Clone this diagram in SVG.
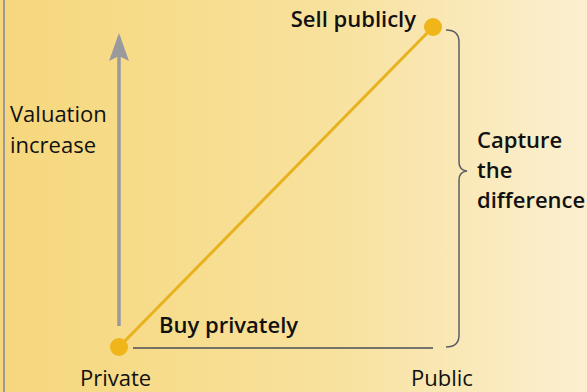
<svg xmlns="http://www.w3.org/2000/svg" width="587" height="392" viewBox="0 0 587 392">
  <defs>
    <linearGradient id="bg" x1="0" y1="0" x2="1" y2="0">
      <stop offset="0" stop-color="#f6d77c"/>
      <stop offset="0.55" stop-color="#f8e19c"/>
      <stop offset="1" stop-color="#fbefd0"/>
    </linearGradient>
    <style>
      .label { font-family: "Open Sans", "Noto Sans", "DejaVu Sans", sans-serif; font-size: 22px; fill: #111; }
      .bold { font-weight: 600; }
      .dot { fill: #efb519; }
    </style>
  </defs>

  <rect width="587" height="392" fill="url(#bg)"/>
  <line x1="4" y1="0" x2="4" y2="392" stroke="#9a9a9e" stroke-width="2"/>

  <g id="connectors">
    <!-- valuation axis -->
    <line x1="119" y1="326" x2="119" y2="37" stroke="#9a9a9e" stroke-width="3.5"/>
    <path d="M119 33 L129 61 L119 56 L109 61 Z" fill="#9a9a9e"/>
    <!-- baseline -->
    <line x1="133" y1="348" x2="433" y2="348" stroke="#4a4e57" stroke-width="1.5"/>
    <!-- price path -->
    <line x1="119" y1="347" x2="433" y2="27" stroke="#e8b21e" stroke-width="3"/>
    <!-- brace -->
    <path d="M446 30 Q459 30 459 42 L459 162 Q459 170 467 171 Q459 172 459 180 L459 335 Q459 347 446 347" fill="none" stroke="#5a5e66" stroke-width="1.5"/>
  </g>

  <g id="valuation">
    <text class="label" x="10" y="122">Valuation</text>
    <text class="label" x="10" y="153">increase</text>
  </g>

  <g id="buy">
    <circle class="dot" cx="119" cy="347" r="9"/>
    <text class="label bold" x="159" y="333">Buy privately</text>
  </g>

  <g id="sell">
    <circle class="dot" cx="433" cy="27" r="9"/>
    <text class="label bold" x="416" y="27" text-anchor="end">Sell publicly</text>
  </g>

  <g id="capture">
    <text class="label bold" x="477" y="148">Capture</text>
    <text class="label bold" x="477" y="178">the</text>
    <text class="label bold" x="477" y="208">difference</text>
  </g>

  <g id="axis-labels">
    <text class="label" x="80" y="386">Private</text>
    <text class="label" x="411" y="386">Public</text>
  </g>
</svg>
